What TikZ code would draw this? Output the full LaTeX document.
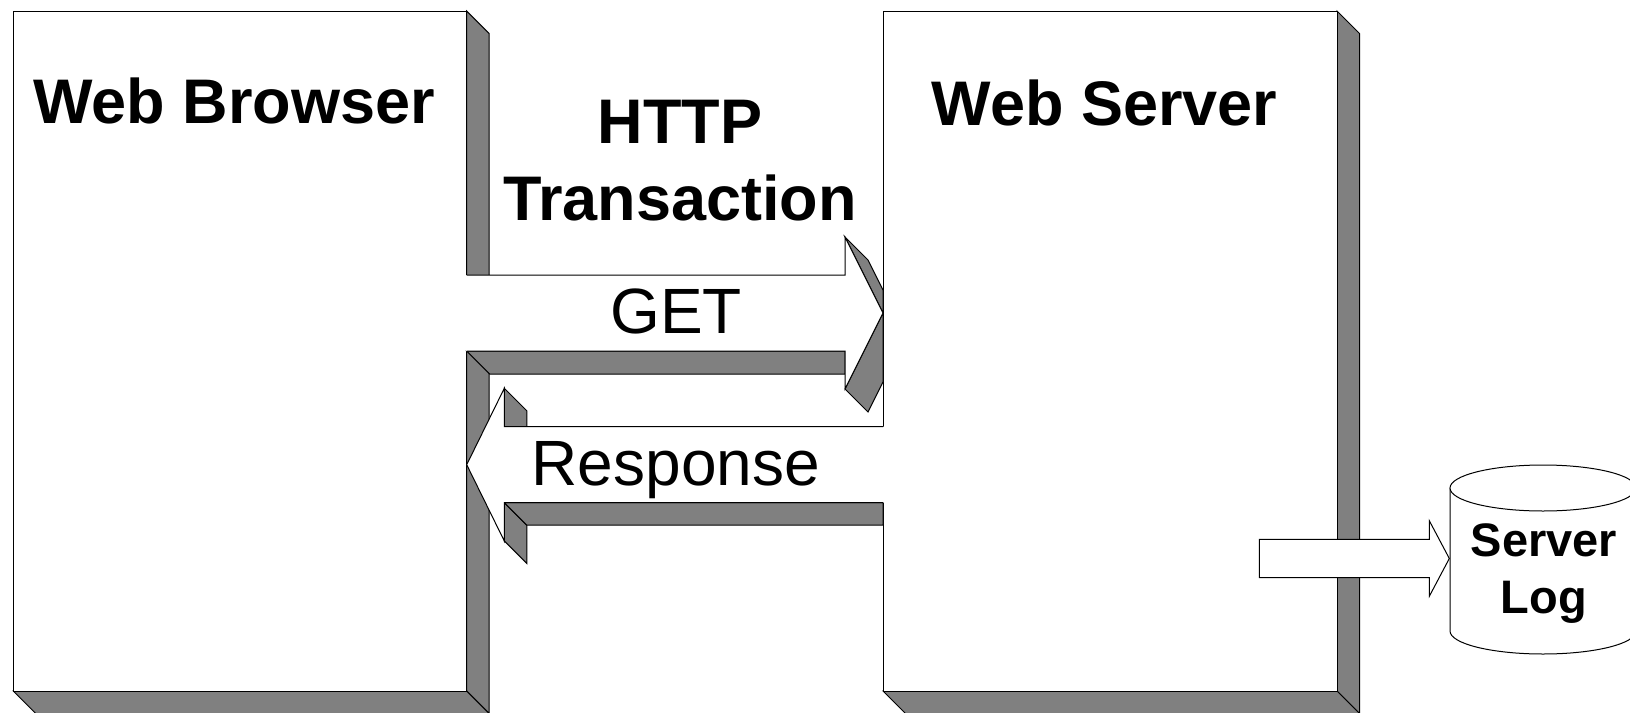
\documentclass[tikz,border=0pt]{standalone}
\usepackage{fontspec}
\setmainfont{Liberation Sans}
\usetikzlibrary{calc}
\definecolor{sidegray}{RGB}{128,128,128}

\begin{document}
\begin{tikzpicture}[x=1pt, y=-1pt,
        face/.style={fill=white, draw=black, line width=1pt},
        side/.style={fill=sidegray, draw=black, line width=1pt},
        title/.style={font=\bfseries\fontsize{63}{70}\selectfont, inner sep=0pt, anchor=base},
        msg/.style={font=\fontsize{64}{70}\selectfont, inner sep=0pt, anchor=base},
        store/.style={font=\bfseries\fontsize{47}{52}\selectfont, inner sep=0pt, anchor=base}]
        \useasboundingbox (0,0) rectangle (1630,712);
        \clip (0,0) rectangle (1630,712);

        \def\dz{22.5} % depth of the 3D faces
        \def\top{11}  % top of both boxes
        \def\bot{691} % bottom of both boxes

        % Browser and server boxes
        \foreach \xl/\xr in {13.3/466.7, 883/1337} {
            \filldraw[side] (\xr,\top) -- (\xr+\dz,\top+\dz) -- (\xr+\dz,\bot+\dz) -- (\xr,\bot) -- cycle; % side face
            \filldraw[side] (\xl,\bot) -- (\xr,\bot) -- (\xr+\dz,\bot+\dz) -- (\xl+\dz,\bot+\dz) -- cycle; % bottom face
            \filldraw[face] (\xl,\top) rectangle (\xr,\bot); % front face
        }
        \node[title] (browser) at (234,123.3) {Web Browser};
        \node[title] (server) at (1104.5,125) {Web Server};

        % GET arrow (browser -> server)
        \filldraw[side] (466.7,351) -- (845,351) -- (845,374) -- (489.7,374) -- cycle; % under the body
        \filldraw[side] (845,237) -- (868,260) -- (883,290) -- (883,313) -- cycle;     % upper head
        \filldraw[side] (883,313) -- (845,389) -- (868,412) -- (883,382) -- cycle;     % lower head
        \fill[white] (466,275) -- (845,275) -- (845,237) -- (883,313) -- (845,389) -- (845,351) -- (466,351) -- cycle;
        \draw[line width=1pt] (466.7,275) -- (845,275) -- (845,237) -- (883,313) -- (845,389) -- (845,351) -- (466.7,351);

        % Response arrow (server -> browser)
        \filldraw[side] (504.3,388.3) -- (526.8,410.8) -- (526.8,426.7) -- (504.3,426.7) -- cycle; % upper head
        \filldraw[side] (504.3,502.7) -- (504.3,541) -- (526.8,563.5) -- (526.8,525.2) -- cycle;   % lower head
        \filldraw[side] (504.3,502.7) -- (883,502.7) -- (883,525.2) -- (526.8,525.2) -- cycle;     % under the body
        \fill[white] (884,426.7) -- (504.3,426.7) -- (504.3,388.3) -- (466.7,464.7) -- (504.3,541) -- (504.3,502.7) -- (884,502.7) -- cycle;
        \draw[line width=1pt] (883,426.7) -- (504.3,426.7) -- (504.3,388.3) -- (466.7,464.7) -- (504.3,541) -- (504.3,502.7) -- (883,502.7);

        \node[title] (http) at (680,143.3) {HTTP};
        \node[title] (transaction) at (680,220) {Transaction};
        \node[msg] (get) at (676,333.3) {GET};
        \node[msg] (response) at (675.8,485) {Response};

        % Server log
        \filldraw[face] (1450,488) -- (1450,631) arc[start angle=180, end angle=0, x radius=93, y radius=23] -- (1636,488) -- cycle;
        \filldraw[face] (1543,488) ellipse[x radius=93, y radius=23];
        \filldraw[face] (1259.3,539.3) -- (1429.3,539.3) -- (1429.3,520.7) -- (1449.3,558.5) -- (1429.3,596.3) -- (1429.3,577.7) -- (1259.3,577.7) -- cycle; % log arrow
        \node[store] (logline1) at (1544,556.7) {Server};
        \node[store] (logline2) at (1544,613) {Log};
\end{tikzpicture}
\end{document}
